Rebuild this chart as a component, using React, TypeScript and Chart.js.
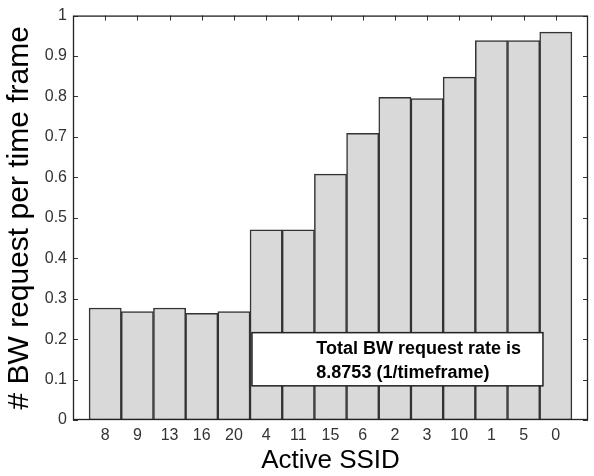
import React, { useEffect, useRef } from 'react';
import { Chart, registerables } from 'chart.js';

Chart.register(...registerables);

const categories = ['8', '9', '13', '16', '20', '4', '11', '15', '6', '2', '3', '10', '1', '5', '0'];
const requestRates = [0.277, 0.268, 0.277, 0.264, 0.268, 0.47, 0.47, 0.608, 0.709, 0.798, 0.795, 0.848, 0.938, 0.938, 0.959];
const yTickValues = [0, 0.1, 0.2, 0.3, 0.4, 0.5, 0.6, 0.7, 0.8, 0.9, 1];
const annotationLines = ['Total BW request rate is', '8.8753 (1/timeframe)'];
const xTitle = 'Active SSID';
const yTitle = '# BW request per time frame';

const FONT = '"Liberation Sans", Arial, Helvetica, sans-serif';

const matlabAxes = {
  id: 'matlabAxes',
  beforeDatasetsDraw(chart: any) {
    const { ctx, chartArea: a, scales } = chart;
    const x = scales.x;
    const y = scales.y;
    ctx.save();
    ctx.strokeStyle = '#333';
    ctx.lineWidth = 1;
    ctx.beginPath();
    for (let i = 1; i <= categories.length; i++) {
      const px = Math.round(x.getPixelForValue(i)) + 0.5;
      ctx.moveTo(px, a.top);
      ctx.lineTo(px, a.top + 5);
      ctx.moveTo(px, a.bottom);
      ctx.lineTo(px, a.bottom - 5);
    }
    y.ticks.forEach((t: any) => {
      const py = Math.round(y.getPixelForValue(t.value)) + 0.5;
      ctx.moveTo(a.left, py);
      ctx.lineTo(a.left + 5, py);
      ctx.moveTo(a.right, py);
      ctx.lineTo(a.right - 5, py);
    });
    ctx.stroke();
    ctx.restore();
  },
  afterDatasetsDraw(chart: any) {
    const { ctx, chartArea: a, scales } = chart;
    const x = scales.x;
    const y = scales.y;
    ctx.save();
    ctx.strokeStyle = '#222';
    ctx.lineWidth = 1.3;
    ctx.strokeRect(a.left + 0.5, a.top + 0.5, a.right - a.left - 1, a.bottom - a.top - 1);

    // text box annotation (data coordinates)
    const x0 = x.getPixelForValue(5.56);
    const x1 = x.getPixelForValue(14.6);
    const yt = y.getPixelForValue(0.216);
    const yb = y.getPixelForValue(0.0845);
    ctx.fillStyle = '#ffffff';
    ctx.fillRect(x0, yt, x1 - x0, yb - yt);
    ctx.strokeStyle = '#222';
    ctx.lineWidth = 1.5;
    ctx.strokeRect(x0, yt, x1 - x0, yb - yt);
    ctx.fillStyle = '#000';
    ctx.font = 'bold 18px ' + FONT;
    ctx.textBaseline = 'alphabetic';
    ctx.textAlign = 'left';
    const tx = x.getPixelForValue(7.56);
    annotationLines.forEach((line, i) => {
      ctx.fillText(line, tx, yt + 21 + i * 24);
    });
    ctx.restore();
  },
};

export default function App() {
  const canvasRef = useRef<HTMLCanvasElement | null>(null);

  useEffect(() => {
    const canvas = canvasRef.current;
    if (!canvas) return;
    const labels = ['', ...categories, ''];
    const data = [null, ...requestRates, null];
    const chart = new Chart(canvas, {
      type: 'bar',
      data: {
        labels,
        datasets: [
          {
            data,
            backgroundColor: '#d9d9d9',
            borderColor: '#333',
            borderWidth: 1.5,
            borderSkipped: false,
            barPercentage: 1,
            categoryPercentage: 1,
          },
        ],
      },
      plugins: [matlabAxes],
      options: {
        animation: false,
        responsive: false,
        devicePixelRatio: 1,
        layout: { padding: { top: 14, right: 1, left: 0, bottom: 0 } },
        plugins: {
          legend: { display: false },
          tooltip: { enabled: false },
        },
        scales: {
          x: {
            type: 'category',
            offset: false,
            grid: { display: false, drawTicks: false },
            border: { display: false },
            ticks: {
              autoSkip: false,
              maxRotation: 0,
              minRotation: 0,
              color: '#333',
              padding: 6,
              font: { family: FONT, size: 16 },
            },
            title: {
              display: true,
              text: xTitle,
              color: '#000',
              font: { family: FONT, size: 26, lineHeight: 1.2 },
              padding: { top: 0, bottom: 0 },
            },
            afterFit(s: any) {
              s.height = 56;
            },
          },
          y: {
            min: 0,
            max: 1,
            grid: { display: false, drawTicks: false },
            border: { display: false },
            ticks: {
              stepSize: 0.1,
              color: '#333',
              padding: 6,
              font: { family: FONT, size: 16 },
              callback: (v: any) => {
                const n = Number(Number(v).toFixed(1));
                return yTickValues.includes(n) ? String(n) : '';
              },
            },
            title: {
              display: true,
              text: yTitle,
              color: '#000',
              font: { family: FONT, size: 30, lineHeight: 1.2 },
              padding: { top: 2, bottom: 0 },
            },
            afterFit(s: any) {
              s.width = 73;
            },
          },
        },
      },
    } as any);
    return () => chart.destroy();
  }, []);

  return (
    <div style={{ position: 'absolute', left: 0, top: 0, width: 594, height: 476, background: '#fff' }}>
      <canvas ref={canvasRef} width={594} height={476} />
    </div>
  );
}
